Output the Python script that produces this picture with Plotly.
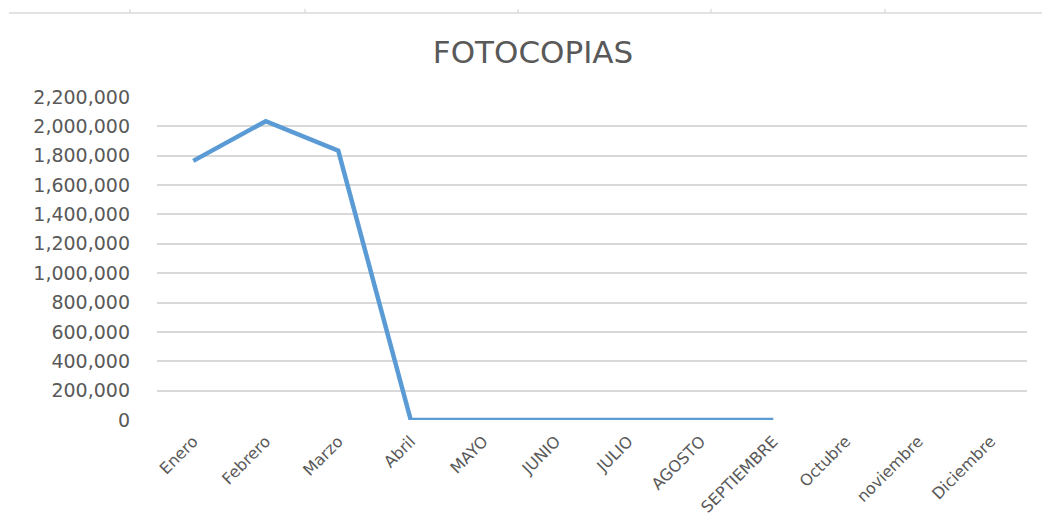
import plotly.graph_objects as go

months = ["Enero", "Febrero", "Marzo", "Abril", "MAYO", "JUNIO", "JULIO",
          "AGOSTO", "SEPTIEMBRE", "Octubre", "noviembre", "Diciembre"]
copies = [1765000, 2035000, 1835000, 0, 0, 0, 0, 0, 0, None, None, None]
y_ticks = list(range(0, 2200001, 200000))

# page has an 8px body margin; work in screen pixels and convert
OFF = 8
W, H = 1050 - OFF, 520 - OFF
PL, PR, PT, PB = 157, 1027, 97, 420   # plot area in screen px
L, R, T, B = PL - OFF, W - (PR - OFF), PT - OFF, H - (PB - OFF)
pw, ph = W - L - R, H - T - B

def px_x(x):
    return (x - OFF - L) / pw

def px_y(y):
    return (H - B - (y - OFF)) / ph

fig = go.Figure()
fig.add_trace(go.Scatter(
    x=months, y=copies, mode="lines",
    line=dict(color="#5B9BD5", width=4.5),
    connectgaps=False, showlegend=False,
))

text_col = "#595959"
font = "DejaVu Sans"

shapes = [dict(type="line", xref="paper", yref="paper",
               x0=px_x(9), x1=px_x(1050), y0=px_y(13), y1=px_y(13),
               line=dict(color="#DADADA", width=1.5))]
for tx in [130, 305, 518, 711, 885]:
    shapes.append(dict(type="line", xref="paper", yref="paper",
                       x0=px_x(tx), x1=px_x(tx), y0=px_y(13), y1=px_y(9),
                       line=dict(color="#D0D0D0", width=1)))

fig.update_layout(
    width=W, height=H,
    margin=dict(l=L, r=R, t=T, b=B, autoexpand=False),
    paper_bgcolor="white", plot_bgcolor="white",
    title=dict(text="FOTOCOPIAS", x=(533 - OFF) / W, xref="container", xanchor="center",
               y=1 - (52 - OFF) / H, yref="container", yanchor="middle",
               font=dict(family=font, size=31, color=text_col)),
    xaxis=dict(
        type="category", categoryorder="array", categoryarray=months,
        range=[-0.5, 11.5], tickangle=-45, showgrid=False, zeroline=False,
        showline=False, ticks="", automargin=False, ticklabelstandoff=8,
        tickfont=dict(family=font, size=16, color=text_col),
    ),
    yaxis=dict(
        range=[0, 2200000], tickvals=y_ticks, tickformat=",d",
        showgrid=True, gridcolor="#D9D9D9", gridwidth=1.5, zeroline=False,
        showline=False, ticks="", ticklabelstandoff=26, automargin=False,
        tickfont=dict(family=font, size=19, color=text_col),
    ),
    shapes=shapes,
)

fig.write_html("out.html")
